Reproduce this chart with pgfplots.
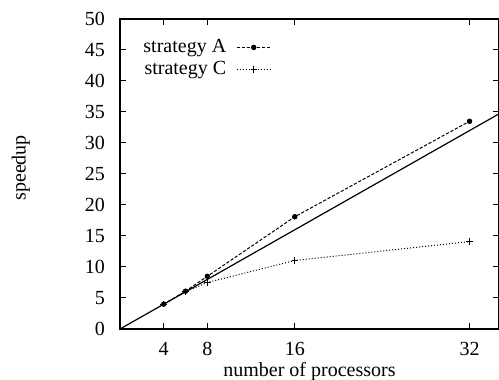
\documentclass[border=0pt]{standalone}
\usepackage{fontspec}
\setmainfont{Liberation Serif}
\usepackage{pgfplots}
\pgfplotsset{compat=1.18}
\begin{document}
\begin{tikzpicture}
\path[use as bounding box] (-60pt,-25.5pt) rectangle (189.5pt,164.5pt);
\begin{axis}[
  at={(0,0)}, anchor=south west,
  scale only axis,
  width=189.5pt, height=155pt,
  xmin=0, xmax=34.7, ymin=0, ymax=50,
  xtick={4,8,16,32},
  ytick={0,5,...,50},
  tick align=inside,
  major tick length=3pt,
  axis line style={line width=0.6pt},
  tick style={line width=0.5pt, black},
  /pgf/number format/assume math mode=true,
  ticklabel style={font=\fontsize{10}{12}\selectfont},
  yticklabel style={xshift=-4pt},
  xticklabel style={yshift=-3pt},
  xlabel={number of processors},
  ylabel={speedup},
  label style={font=\fontsize{10}{12}\selectfont},
  xlabel style={at={(axis description cs:0.5,0)}, anchor=center, yshift=-21.5pt},
  ylabel style={at={(axis description cs:-0.262,0.52)}, anchor=center},
  legend style={draw=none, fill=none, at={(axis description cs:0.045,0.955)}, anchor=north west,
    font=\fontsize{10}{12}\selectfont, row sep=-1pt, inner sep=1pt, column sep=3pt},
  legend cell align=right,
  legend plot pos=right,
]
\addplot[black, line width=0.5pt, dash pattern=on 1.6pt off 0.9pt, mark=*, mark size=1.1pt, mark options={solid}]
  coordinates {(4,4) (6,6.1) (8,8.5) (16,18.1) (32,33.5)};
\addlegendentry{strategy A}
\addplot[black, line width=0.5pt, densely dotted, mark=+, mark size=1.6pt, mark options={solid}]
  coordinates {(4,4) (6,6.0) (8,7.5) (16,11.05) (32,14.1)};
\addlegendentry{strategy C}
\addplot[black, line width=0.6pt, forget plot] coordinates {(0,0) (34.7,34.7)};
\end{axis}
\end{tikzpicture}
\end{document}
